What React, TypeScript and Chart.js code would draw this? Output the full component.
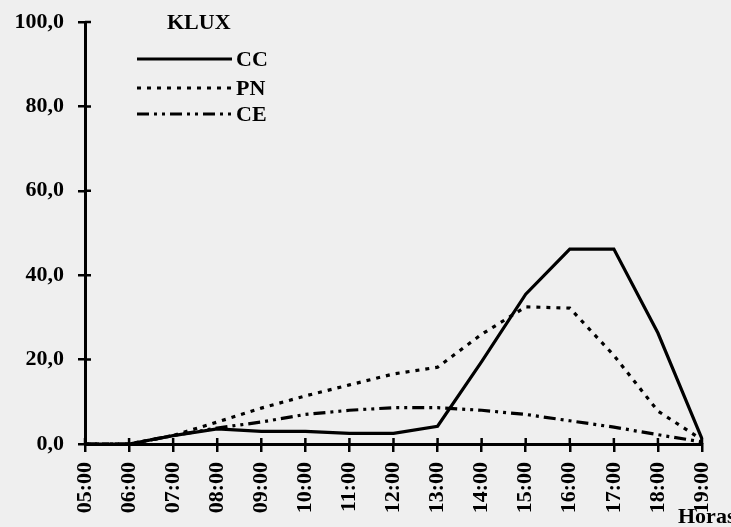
import React, { useEffect, useRef } from "react";
import { Chart, registerables } from "chart.js";

Chart.register(...registerables);

const hours = ["05:00","06:00","07:00","08:00","09:00","10:00","11:00","12:00","13:00","14:00","15:00","16:00","17:00","18:00","19:00"];
const ccValues = [0, 0, 2, 3.6, 3, 3, 2.5, 2.5, 4.2, 19.5, 35.5, 46.2, 46.2, 26.3, 1.2];
const pnValues = [0, 0, 2, 5.2, 8.5, 11.4, 14, 16.6, 18.2, 26, 32.5, 32.2, 21, 7.8, 1];
const ceValues = [0, 0, 2, 3.8, 5.2, 7, 8, 8.6, 8.6, 8, 7, 5.5, 4, 2.2, 0.5];
const seriesNames = ["CC", "PN", "CE"];
const yTicks = [0, 20, 40, 60, 80, 100];
const legendTitle = "KLUX";
const xTitle = "Horas";

const FONT = "'Liberation Serif', 'Times New Roman', serif";
const dashes: number[][] = [[], [4, 6], [12, 5, 3, 5, 3, 5]];

export default function App() {
  const ref = useRef<HTMLCanvasElement>(null);
  useEffect(() => {
    document.body.style.margin = "0";
    document.body.style.background = "#efefef";
    const canvas = ref.current!;
    const overlay = {
      id: "overlay",
      afterDraw(chart: any) {
        const ctx = chart.ctx;
        const xs = chart.scales.x;
        const ys = chart.scales.y;
        const area = chart.chartArea;
        ctx.save();
        ctx.strokeStyle = "#000";
        ctx.lineWidth = 2.5;
        // inner tick halves
        ctx.beginPath();
        yTicks.forEach((v) => {
          const y = ys.getPixelForValue(v);
          ctx.moveTo(area.left, y);
          ctx.lineTo(area.left + 6, y);
        });
        hours.forEach((_, i) => {
          const x = xs.getPixelForValue(i);
          ctx.moveTo(x, area.bottom);
          ctx.lineTo(x, area.bottom - 6);
        });
        ctx.stroke();
        // legend
        ctx.fillStyle = "#000";
        ctx.font = `bold 22px ${FONT}`;
        ctx.textBaseline = "middle";
        ctx.textAlign = "left";
        ctx.fillText(legendTitle, 167, 23);
        const rows = [59, 88, 114];
        chart.data.datasets.forEach((ds: any, i: number) => {
          ctx.setLineDash(dashes[i]);
          ctx.lineWidth = 3;
          ctx.beginPath();
          ctx.moveTo(137, rows[i]);
          ctx.lineTo(232, rows[i]);
          ctx.stroke();
          ctx.setLineDash([]);
          ctx.fillText(ds.label, 236, rows[i] + 1);
        });
        ctx.textBaseline = "alphabetic";
        ctx.fillText(xTitle, 678, 523);
        ctx.restore();
      },
    };
    const chart = new Chart(canvas, {
      type: "line",
      data: {
        labels: hours,
        datasets: [ccValues, pnValues, ceValues].map((d, i) => ({
          label: seriesNames[i],
          data: d,
          borderColor: "#000",
          borderWidth: 3.2,
          borderDash: dashes[i],
          pointRadius: 0,
          tension: 0,
          fill: false,
        })),
      },
      options: {
        animation: false,
        responsive: false,
        maintainAspectRatio: false,
        layout: { padding: { top: 22, right: 29, left: 0, bottom: 0 } },
        plugins: { legend: { display: false }, tooltip: { enabled: false } },
        scales: {
          x: {
            offset: false,
            border: { display: true, color: "#000", width: 3 },
            grid: { drawOnChartArea: false, drawTicks: true, tickLength: 8, color: "#000", lineWidth: 2.5 },
            ticks: {
              color: "#000",
              font: { family: FONT, weight: "bold", size: 22 },
              maxRotation: 90,
              minRotation: 90,
              autoSkip: false,
              padding: 10,
            },
            afterFit: (s: any) => { s.height = 83; s.paddingLeft = 0; s.paddingRight = 0; },
          },
          y: {
            min: 0,
            max: 100,
            border: { display: true, color: "#000", width: 3 },
            grid: { drawOnChartArea: false, drawTicks: true, tickLength: 7, color: "#000", lineWidth: 2.5 },
            afterBuildTicks: (s: any) => { s.ticks = yTicks.map((v) => ({ value: v })); },
            ticks: {
              color: "#000",
              font: { family: FONT, weight: "bold", size: 22 },
              padding: 14,
              callback: (v: any) => Number(v).toFixed(1).replace(".", ","),
            },
            afterFit: (s: any) => { s.width = 85; s.paddingTop = 0; s.paddingBottom = 0; },
          },
        },
      },
      plugins: [overlay],
    });
    return () => chart.destroy();
  }, []);
  return <canvas ref={ref} width={731} height={527} style={{ display: "block" }} />;
}
